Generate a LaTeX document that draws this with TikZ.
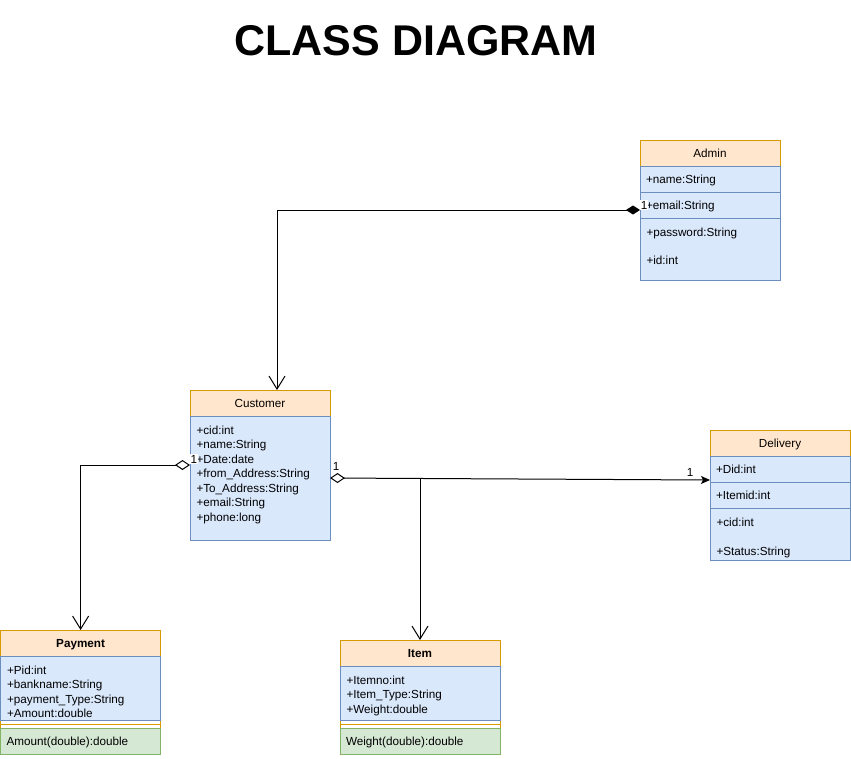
\documentclass[tikz,border=0pt]{standalone}
\usepackage{fontspec}
\setmainfont{Liberation Sans}
\usetikzlibrary{positioning, arrows.meta}

\definecolor{headfill}{HTML}{FFE6CC}
\definecolor{headline}{HTML}{D79B00}
\definecolor{bodyfill}{HTML}{DAE8FC}
\definecolor{bodyline}{HTML}{6C8EBF}
\definecolor{opfill}{HTML}{D5E8D4}
\definecolor{opline}{HTML}{82B366}

\newcommand{\cellfont}{\fontsize{11.7}{14.5}\selectfont}

\tikzset{
	oneline/.style={text height=10pt, text depth=2pt},
	classhead/.style={draw=headline, fill=headfill, minimum height=26pt, inner sep=0pt, outer sep=0pt, anchor=north west, font=\cellfont, oneline},
	classbody/.style={draw=bodyline, fill=bodyfill, inner sep=0pt, outer sep=0pt, anchor=north west},
	row/.style={classbody, minimum height=26pt, inner xsep=6pt, text width=128pt, align=left, font=\cellfont, oneline},
	oprow/.style={draw=opline, fill=opfill, minimum height=26pt, inner xsep=6pt, inner ysep=0pt, outer sep=0pt, text width=148pt, align=left, anchor=north west, font=\cellfont, oneline},
	attr/.style={anchor=north west, align=left, inner sep=0pt, font=\cellfont},
	mult/.style={inner sep=0.5pt, font=\cellfont},
}

\begin{document}
\begin{tikzpicture}[x=1pt, y=-1pt, line width=1pt]
	\useasboundingbox (0,0) rectangle (851,758);
	%title
	\node[font=\fontsize{43}{50}\selectfont\bfseries] (title) at (416,41) {CLASS DIAGRAM};
	%
	%admin
	\node[classhead, minimum width=140pt] (admin) at (640,140) {Admin};
	\node[row, below=0pt of admin] (adminname) {+name:String};
	\node[row, below=0pt of adminname] (adminemail) {+email:String};
	\node[classbody, minimum width=140pt, minimum height=62pt, below=0pt of adminemail] (adminpass) {};
	\node[attr] (adminpasstext) at ([xshift=6pt, yshift=-9.5pt]adminpass.north west) {+password:String\\[13.5pt]+id:int};
	%customer
	\node[classhead, minimum width=140pt] (customer) at (190,390) {Customer};
	\node[classbody, minimum width=140pt, minimum height=124pt, below=0pt of customer] (custbody) {};
	\node[attr] (custattr) at ([xshift=6pt, yshift=-9.5pt]custbody.north west) {+cid:int\\+name:String\\+Date:date\\+from\_Address:String\\+To\_Address:String\\+email:String\\+phone:long};
	%delivery
	\node[classhead, minimum width=140pt] (delivery) at (710,430) {Delivery};
	\node[row, below=0pt of delivery] (delivdid) {+Did:int};
	\node[row, below=0pt of delivdid] (delivitem) {+Itemid:int};
	\node[classbody, minimum width=140pt, minimum height=52pt, below=0pt of delivitem] (delivcid) {};
	\node[attr] (delivcidtext) at ([xshift=6pt, yshift=-9.5pt]delivcid.north west) {+cid:int\\[14.5pt]+Status:String};
	%payment
	\draw[headline, fill=white] (0.6,630) rectangle (160.6,754);
	\draw[headline] (0.6,724) -- (160.6,724);
	\node[classhead, minimum width=160pt, font=\cellfont\bfseries] (payment) at (0.6,630) {Payment};
	\node[classbody, minimum width=160pt, minimum height=64pt, below=0pt of payment] (paybody) {};
	\node[attr] (payattr) at ([xshift=6pt, yshift=-9.5pt]paybody.north west) {+Pid:int\\+bankname:String\\+payment\_Type:String\\+Amount:double};
	\node[oprow] (payop) at (0.6,728) {Amount(double):double};
	%item
	\draw[headline, fill=white] (340,640) rectangle (500,754);
	\draw[headline] (340,724) -- (500,724);
	\node[classhead, minimum width=160pt, font=\cellfont\bfseries] (item) at (340,640) {Item};
	\node[classbody, minimum width=160pt, minimum height=54pt, below=0pt of item] (itembody) {};
	\node[attr] (itemattr) at ([xshift=6pt, yshift=-9.5pt]itembody.north west) {+Itemno:int\\+Item\_Type:String\\+Weight:double};
	\node[oprow] (itemop) at (340,728) {Weight(double):double};
	%
	%links
	\draw[{Diamond[length=14pt, width=9pt]}-{Straight Barb[length=13pt, width=16pt]}] ([yshift=-5pt]adminemail.west) -| ([xshift=17pt]customer.north);
	\draw[{Diamond[open, length=15pt, width=10pt]}-{Straight Barb[length=13pt, width=16pt]}] ([yshift=13pt]custbody.west) -| (payment.north);
	\draw[{Diamond[open, length=15pt, width=10pt]}-{Stealth[length=9pt, width=8pt, inset=2pt]}] (custbody.east) -- ([yshift=-11pt]delivdid.west);
	\draw[-{Straight Barb[length=13pt, width=16pt]}] (item.north |- custbody.east) -- (item.north);
	%multiplicities
	\node[mult, fill=white] (m1) at (644,205) {1};
	\node[mult, fill=white] (m2) at (194,459) {1};
	\node[mult] (m3) at (336,466) {1};
	\node[mult] (m4) at (690,472) {1};
\end{tikzpicture}
\end{document}
